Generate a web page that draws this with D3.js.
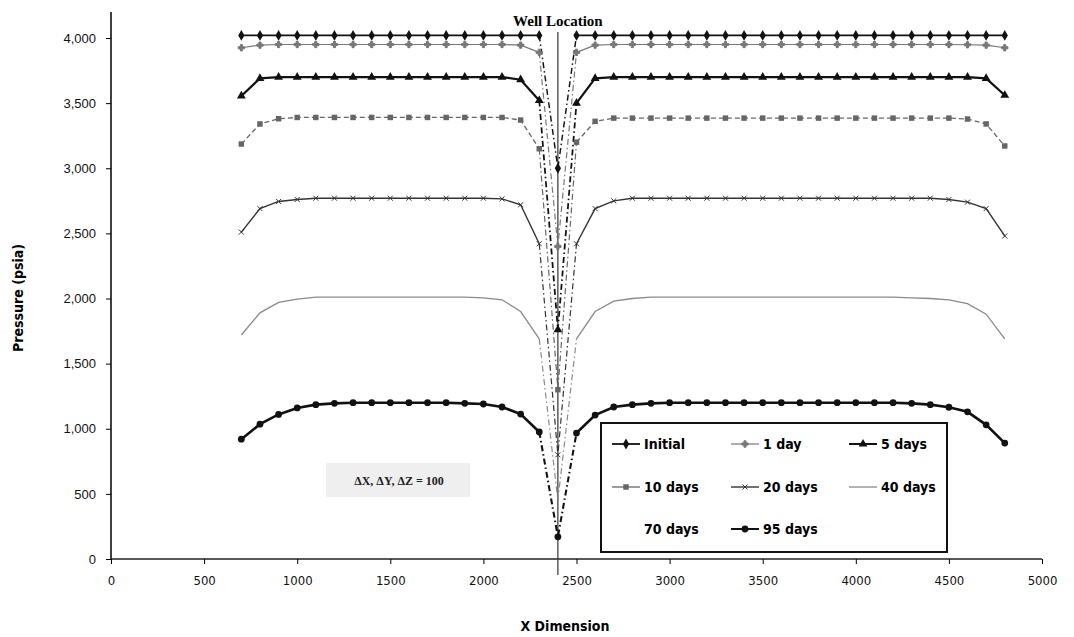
<!DOCTYPE html>
<html><head><meta charset="utf-8">
<script src="https://cdn.jsdelivr.net/npm/d3@7"></script>
<style>
body{margin:0;background:#fff;}
svg{display:block;}
.narrow{font-family:"DejaVu Sans Condensed","Liberation Sans Narrow","Arial Narrow",sans-serif;}
</style></head>
<body><svg id="c" width="1074" height="637"></svg>
<script>
// ---- data ----
const xPositions = d3.range(700, 4801, 100); // grid block centres (ft), 42 blocks
const wellX = 2400;
const xTicks = [0,500,1000,1500,2000,2500,3000,3500,4000,4500,5000];
const yTicks = [0,500,1000,1500,2000,2500,3000,3500,4000];
const seriesNames = ["Initial","1 day","5 days","10 days","20 days","40 days","70 days","95 days"];

const initial = [4020,4020,4020,4020,4020,4020,4020,4020,4020,4020,
                 4020,4020,4020,4020,4020,4020,4020,3000,4020,4020,
                 4020,4020,4020,4020,4020,4020,4020,4020,4020,4020,
                 4020,4020,4020,4020,4020,4020,4020,4020,4020,4020,
                 4020,4020];
const day1 = [3925,3945,3950,3950,3950,3950,3950,3950,3950,3950,
              3950,3950,3950,3950,3950,3945,3890,2400,3890,3945,
              3950,3950,3950,3950,3950,3950,3950,3950,3950,3950,
              3950,3950,3950,3950,3950,3950,3950,3950,3950,3948,
              3945,3925];
const day5 = [3555,3690,3700,3700,3700,3700,3700,3700,3700,3700,
              3700,3700,3700,3700,3700,3680,3520,1760,3500,3690,
              3700,3700,3700,3700,3700,3700,3700,3700,3700,3700,
              3700,3700,3700,3700,3700,3700,3700,3700,3700,3700,
              3690,3560];
const day10 = [3186,3340,3380,3390,3390,3390,3390,3390,3390,3390,
               3390,3390,3390,3390,3390,3370,3150,1300,3200,3360,
               3385,3385,3385,3385,3385,3385,3385,3385,3385,3385,
               3385,3385,3385,3385,3385,3385,3385,3385,3385,3378,
               3340,3171];
const day20 = [2510,2690,2745,2760,2770,2770,2770,2770,2770,2770,
               2770,2770,2770,2770,2765,2720,2420,800,2420,2690,
               2750,2770,2770,2770,2770,2770,2770,2770,2770,2770,
               2770,2770,2770,2770,2770,2770,2770,2770,2760,2740,
               2690,2480];
const day40 = [1720,1890,1970,1995,2010,2010,2010,2010,2010,2010,
               2010,2010,2010,2005,1990,1900,1690,450,1690,1900,
               1980,2000,2010,2010,2010,2010,2010,2010,2010,2010,
               2010,2010,2010,2010,2010,2010,2005,2000,1990,1960,
               1880,1690];
const day95 = [920,1035,1110,1160,1185,1195,1200,1200,1200,1200,
               1200,1200,1195,1190,1167,1113,975,170,967,1105,
               1167,1185,1195,1200,1200,1200,1200,1200,1200,1200,
               1200,1200,1200,1200,1200,1200,1195,1185,1165,1130,
               1030,890];
</script>
<script>
const svg = d3.select("#c");
const x = d3.scaleLinear().domain([0,5000]).range([111,1042]);
const y = d3.scaleLinear().domain([0,4000]).range([559,38]);

// y axis
const yAxis = svg.append("g").attr("transform","translate(111,0)")
  .call(d3.axisLeft(y).tickValues(yTicks).tickFormat(d3.format(",")).tickSize(5).tickPadding(10));
yAxis.select(".domain").remove();
svg.append("line").attr("x1",111).attr("x2",111).attr("y1",y(4200)).attr("y2",559).attr("stroke","#000").attr("stroke-width",1.5);
yAxis.selectAll("text").attr("font-family","'Liberation Sans',Arial,sans-serif").attr("font-size",13).attr("fill","#111");
yAxis.selectAll("line").attr("stroke","#000");

// x axis
const xAxis = svg.append("g").attr("transform","translate(0,559)")
  .call(d3.axisBottom(x).tickValues(xTicks).tickFormat(d3.format("d")).tickSize(5).tickPadding(12));
xAxis.select(".domain").attr("stroke","#222").attr("stroke-width",1.5).attr("d",`M${x(0)},0H${x(5000)}`);
xAxis.selectAll("text").attr("class","narrow").attr("font-size",13).attr("fill","#111");
xAxis.selectAll("line").attr("stroke","#000");

// axis titles
svg.append("text").attr("class","narrow").attr("x",565).attr("y",631).attr("text-anchor","middle")
  .attr("font-size",14).attr("font-weight","bold").text("X Dimension");
svg.append("text").attr("class","narrow").attr("transform","translate(23,298) rotate(-90)").attr("text-anchor","middle")
  .attr("font-size",14).attr("font-weight","bold").text("Pressure (psia)");

// well location
svg.append("line").attr("x1",x(wellX)).attr("x2",x(wellX)).attr("y1",32).attr("y2",575).attr("stroke","#333").attr("stroke-width",1.2);
svg.append("text").attr("x",x(wellX)).attr("y",26).attr("text-anchor","middle")
  .attr("font-family","'Liberation Serif','Times New Roman',serif").attr("font-weight","bold").attr("font-size",15).text("Well Location");

// annotation
svg.append("rect").attr("x",326).attr("y",463).attr("width",144).attr("height",34).attr("fill","#efefef");
svg.append("text").attr("x",399).attr("y",485).attr("text-anchor","middle")
  .attr("font-family","'Liberation Serif','Times New Roman',serif").attr("font-size",12).attr("font-weight","bold").attr("fill","#222")
  .text("\u0394X, \u0394Y, \u0394Z = 100");

// series
const styles = [
  {name:seriesNames[0], vals:initial, color:"#111", w:1.8, marker:"diamond", ms:34, mfill:"#111"},
  {name:seriesNames[1], vals:day1, color:"#777", w:1.2, marker:"plus", ms:22, mfill:"#777"},
  {name:seriesNames[2], vals:day5, color:"#111", w:2.2, marker:"triangle", ms:34, mfill:"#111"},
  {name:seriesNames[3], vals:day10, color:"#666", w:1.3, marker:"square", ms:30, mfill:"#666", dash:"5,3"},
  {name:seriesNames[4], vals:day20, color:"#333", w:1.4, marker:"cross", ms:18, mfill:"#333"},
  {name:seriesNames[5], vals:day40, color:"#8a8a8a", w:1.3, marker:null},
  {name:seriesNames[6], vals:null},
  {name:seriesNames[7], vals:day95, color:"#111", w:2.6, marker:"circle", ms:36, mfill:"#111"}
];
const symMap = {diamond:d3.symbolDiamond, plus:d3.symbolCross, triangle:d3.symbolTriangle, square:d3.symbolSquare, cross:d3.symbolX, circle:d3.symbolCircle};

const line = d3.line().x(d=>x(d[0])).y(d=>y(d[1]));
const wellIdx = xPositions.indexOf(wellX);
const plotG = svg.append("g");
styles.forEach(s=>{
  if(!s.vals) return;
  const pts = xPositions.map((xv,i)=>[xv,s.vals[i]]);
  const left = pts.slice(0,wellIdx), right = pts.slice(wellIdx+1), well = pts.slice(wellIdx-1,wellIdx+2);
  [left,right].forEach(p=>{
    plotG.append("path").attr("d",line(p)).attr("fill","none").attr("stroke",s.color).attr("stroke-width",s.w)
      .attr("stroke-dasharray",s.dash||null);
  });
  plotG.append("path").attr("d",line(well)).attr("fill","none").attr("stroke",s.color).attr("stroke-width",Math.max(1.2,s.w*0.8))
    .attr("stroke-dasharray","6,3,1.5,3");
  if(s.marker){
    const sym = d3.symbol().type(symMap[s.marker]).size(s.ms);
    plotG.selectAll(null).data(pts).join("path")
      .attr("transform",d=>`translate(${x(d[0])},${y(d[1])})`)
      .attr("d",sym).attr("fill",s.marker==="cross"?"none":s.mfill)
      .attr("stroke",s.marker==="cross"||s.marker==="plus"?s.mfill:"none").attr("stroke-width",1);
  }
});

// legend
const lg = svg.append("g");
lg.append("rect").attr("x",601).attr("y",423).attr("width",346).attr("height",129).attr("fill","#fff").attr("stroke","#111").attr("stroke-width",2);
const cols = [612,731,849], rows = [444,487,529];
styles.forEach((s,i)=>{
  const cx = cols[i%3], cy = rows[Math.floor(i/3)];
  if(s.vals){
    lg.append("line").attr("x1",cx).attr("x2",cx+28).attr("y1",cy).attr("y2",cy).attr("stroke",s.color).attr("stroke-width",Math.min(s.w,2));
    if(s.marker){
      lg.append("path").attr("transform",`translate(${cx+14},${cy})`).attr("d",d3.symbol().type(symMap[s.marker]).size(s.ms)())
        .attr("fill",s.marker==="cross"?"none":s.mfill).attr("stroke",s.marker==="cross"||s.marker==="plus"?s.mfill:"none");
    }
  }
  lg.append("text").attr("class","narrow").attr("x",cx+32).attr("y",cy+5).attr("font-size",14).attr("font-weight","bold").text(s.name);
});
</script>
</body></html>
